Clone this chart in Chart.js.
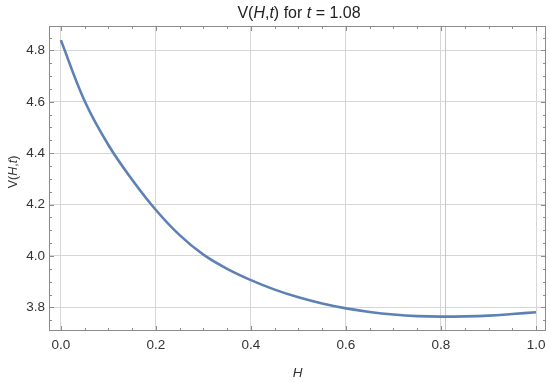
<!DOCTYPE html>
<html>
<head>
<meta charset="utf-8">
<script src="https://cdn.jsdelivr.net/npm/chart.js@4.4.1/dist/chart.umd.min.js"></script>
<style>
html,body{margin:0;padding:0;background:#fff;}
#wrap{width:550px;height:382px;position:relative;}
</style>
</head>
<body>
<div id="wrap"><canvas id="c" width="550" height="382"></canvas></div>
<script>
// ---- data ----
const hValues = [0, 0.05, 0.1, 0.15, 0.2, 0.25, 0.3, 0.35, 0.4, 0.45, 0.5, 0.55, 0.6, 0.65, 0.7, 0.75, 0.8, 0.85, 0.9, 0.95, 1.0];
const vValues = [4.84, 4.603, 4.432, 4.297, 4.179, 4.081, 4.005, 3.950, 3.906, 3.869, 3.839, 3.815, 3.796, 3.782, 3.772, 3.766, 3.764, 3.765, 3.768, 3.774, 3.781];
const xMajorTicks = [0, 0.2, 0.4, 0.6, 0.8, 1.0];
const xTickLabels = ["0.0", "0.2", "0.4", "0.6", "0.8", "1.0"];
const xMinorTicks = [0.05,0.1,0.15,0.25,0.3,0.35,0.45,0.5,0.55,0.65,0.7,0.75,0.85,0.9,0.95];
const yMajorTicks = [3.8, 4.0, 4.2, 4.4, 4.6, 4.8];
const yTickLabels = ["3.8", "4.0", "4.2", "4.4", "4.6", "4.8"];
const yMinorTicks = [3.75,3.85,3.9,3.95,4.05,4.1,4.15,4.25,4.3,4.35,4.45,4.5,4.55,4.65,4.7,4.75,4.85];
const minMarker = 0.808;
const tValue = "1.08";

const FONT = '"Liberation Sans", Arial, sans-serif';

const decor = {
  id: 'decor',
  beforeDatasetsDraw(chart) {
    const {ctx, chartArea: a, scales: {x}} = chart;
    ctx.save();
    const px = Math.round(x.getPixelForValue(minMarker)) + 0.5;
    ctx.strokeStyle = 'rgba(232,170,95,0.75)';
    ctx.lineWidth = 1;
    ctx.beginPath(); ctx.moveTo(px, a.top); ctx.lineTo(px, a.bottom); ctx.stroke();
    ctx.restore();
  },
  afterDraw(chart) {
    const {ctx, chartArea: a, scales: {x, y}} = chart;
    ctx.save();
    // frame
    ctx.strokeStyle = '#8c8c8c';
    ctx.lineWidth = 1;
    ctx.strokeRect(a.left + 0.5, a.top + 0.5, a.right - a.left - 1, a.bottom - a.top - 1);
    // ticks
    const tick = (v, len, axis) => {
      if (axis === 'x') {
        const p = Math.round(x.getPixelForValue(v)) + 0.5;
        ctx.beginPath();
        ctx.moveTo(p, a.bottom); ctx.lineTo(p, a.bottom - len);
        ctx.moveTo(p, a.top); ctx.lineTo(p, a.top + len);
        ctx.stroke();
      } else {
        const p = Math.round(y.getPixelForValue(v)) + 0.5;
        ctx.beginPath();
        ctx.moveTo(a.left, p); ctx.lineTo(a.left + len, p);
        ctx.moveTo(a.right, p); ctx.lineTo(a.right - len, p);
        ctx.stroke();
      }
    };
    ctx.strokeStyle = '#8c8c8c';
    xMajorTicks.forEach(v => tick(v, 5, 'x'));
    xMinorTicks.forEach(v => tick(v, 3, 'x'));
    yMajorTicks.forEach(v => tick(v, 5, 'y'));
    yMinorTicks.forEach(v => tick(v, 3, 'y'));
    // tick labels
    ctx.fillStyle = '#333';
    ctx.font = '13.5px ' + FONT;
    ctx.textAlign = 'center'; ctx.textBaseline = 'middle';
    xMajorTicks.forEach((v, i) => ctx.fillText(xTickLabels[i], x.getPixelForValue(v), 345));
    ctx.textAlign = 'right';
    yMajorTicks.forEach((v, i) => ctx.fillText(yTickLabels[i], 45, y.getPixelForValue(v)));
    // x axis title
    ctx.textAlign = 'center';
    ctx.font = 'italic 13.5px ' + FONT;
    ctx.fillText('H', (a.left + a.right) / 2, 373);
    // rich text helper
    const rich = (parts, cx, cy, size) => {
      let w = 0;
      parts.forEach(p => { ctx.font = (p[1] ? 'italic ' : '') + size + 'px ' + FONT; p.w = ctx.measureText(p[0]).width; w += p.w; });
      let xx = cx - w / 2;
      ctx.textAlign = 'left';
      parts.forEach(p => { ctx.font = (p[1] ? 'italic ' : '') + size + 'px ' + FONT; ctx.fillText(p[0], xx, cy); xx += p.w; });
    };
    // y axis title
    ctx.save();
    ctx.translate(14, 172);
    ctx.rotate(-Math.PI / 2);
    ctx.textBaseline = 'middle';
    rich([['V(', 0], ['H', 1], [',', 0], ['t', 1], [')', 0]], 0, 0, 12.5);
    ctx.restore();
    // title
    ctx.fillStyle = '#222';
    ctx.textBaseline = 'alphabetic';
    rich([['V(', 0], ['H', 1], [',', 0], ['t', 1], [') for ', 0], ['t', 1], [' = ' + tValue, 0]], 299, 17.5, 16);
    ctx.restore();
  }
};

const gridColor = '#d6d6d6';
new Chart(document.getElementById('c'), {
  type: 'line',
  data: {
    datasets: [{
      data: hValues.map((h, i) => ({x: h, y: vValues[i]})),
      borderColor: '#5e81b5',
      borderWidth: 2.6,
      pointRadius: 0,
      tension: 0.4,
      fill: false
    }]
  },
  options: {
    responsive: false,
    animation: false,
    devicePixelRatio: 1,
    layout: {padding: {left: 49, right: 4, top: 26, bottom: 51}},
    plugins: {legend: {display: false}, tooltip: {enabled: false}, title: {display: false}},
    scales: {
      x: {
        type: 'linear', min: -0.025, max: 1.021,
        afterBuildTicks: s => { s.ticks = xMajorTicks.map(v => ({value: v})); },
        ticks: {display: false},
        grid: {color: gridColor, lineWidth: 1, drawTicks: false},
        border: {display: false}
      },
      y: {
        type: 'linear', min: 3.708, max: 4.895,
        afterBuildTicks: s => { s.ticks = yMajorTicks.map(v => ({value: v})); },
        ticks: {display: false},
        grid: {color: gridColor, lineWidth: 1, drawTicks: false},
        border: {display: false}
      }
    }
  },
  plugins: [decor]
});
</script>
</body>
</html>
